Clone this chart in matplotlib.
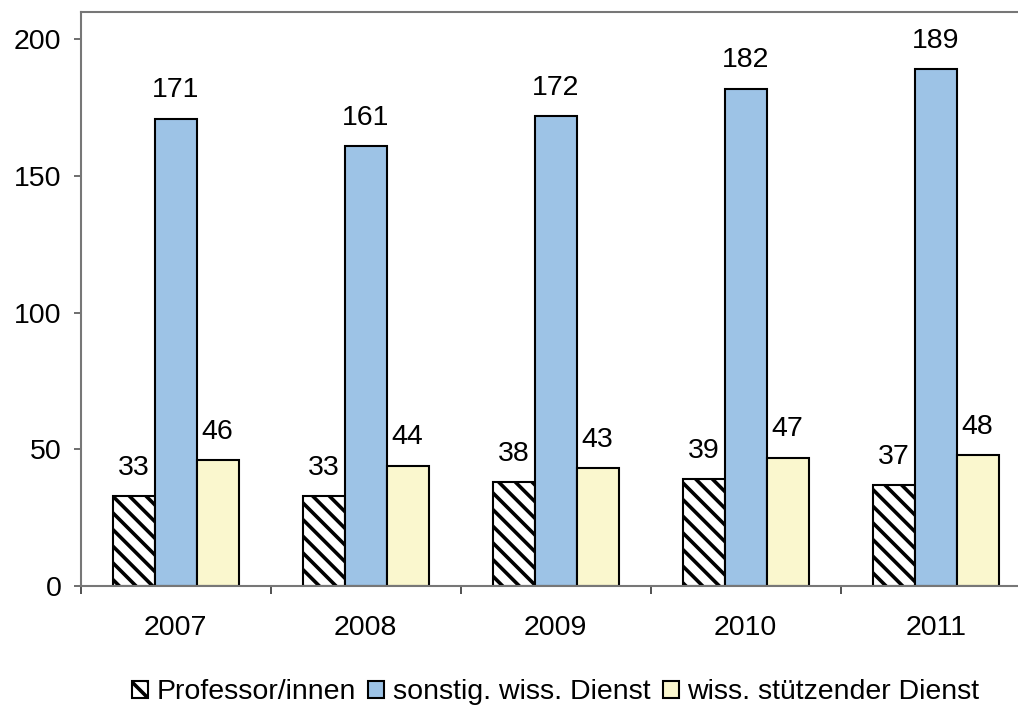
import numpy as np
import matplotlib.pyplot as plt
from matplotlib.ticker import FixedLocator

# Daten
years = ['2007', '2008', '2009', '2010', '2011']
professoren = [33, 33, 38, 39, 37]
sonstig = [171, 161, 172, 182, 189]
stuetzend = [46, 44, 43, 47, 48]
series_names = ['Professor/innen', 'sonstig. wiss. Dienst', 'wiss. stützender Dienst']

plt.rcParams['font.family'] = ['Liberation Sans', 'DejaVu Sans']
plt.rcParams['hatch.linewidth'] = 2.6

FS = 20.5

fig = plt.figure(figsize=(10.18, 7.11), dpi=100)
W, H = 1018, 711
# Plotbereich reicht rechts über den Bildrand hinaus
ax = fig.add_axes([80.7 / W, (H - 586) / H, 950 / W, (586 - 12) / H])

x = np.arange(len(years))
bw = 0.221
common = dict(width=bw, edgecolor='black', linewidth=1.5, zorder=2)
b1 = ax.bar(x - bw, professoren, color='white', hatch='\\\\', **common)
b2 = ax.bar(x, sonstig, color='#9DC3E6', **common)
b3 = ax.bar(x + bw, stuetzend, color='#FAF7CE', **common)

for bars, vals in [(b1, professoren), (b2, sonstig), (b3, stuetzend)]:
    for rect, v in zip(bars, vals):
        ax.annotate(str(v), (rect.get_x() + rect.get_width() / 2, v),
                    xytext=(0, 11), textcoords='offset points',
                    ha='center', va='bottom', fontsize=FS)

ax.set_xlim(-0.5, len(years) - 0.5)
ax.set_ylim(0, 210)
ax.set_yticks([0, 50, 100, 150, 200])
ax.set_xticks(x)
ax.set_xticklabels(years)
ax.xaxis.set_minor_locator(FixedLocator(np.arange(-0.5, len(years), 1.0)))

ax.tick_params(axis='y', labelsize=FS, length=5, width=1.2, color='#555555', pad=9)
ax.tick_params(axis='x', which='major', labelsize=FS, length=0, pad=21)
ax.tick_params(axis='x', which='minor', length=6, width=1.2, color='#333333')

for s in ['left', 'top', 'bottom']:
    ax.spines[s].set_color('#777777')
    ax.spines[s].set_linewidth(1.5)
ax.spines['right'].set_visible(False)

leg = ax.legend([b1, b2, b3], series_names, loc='center', bbox_to_anchor=(0.5, -0.185),
                ncol=3, frameon=False, fontsize=FS, handlelength=0.55, handleheight=0.55,
                handletextpad=0.3, columnspacing=0.45, borderaxespad=0)

fig.savefig('out.png', dpi=100)
